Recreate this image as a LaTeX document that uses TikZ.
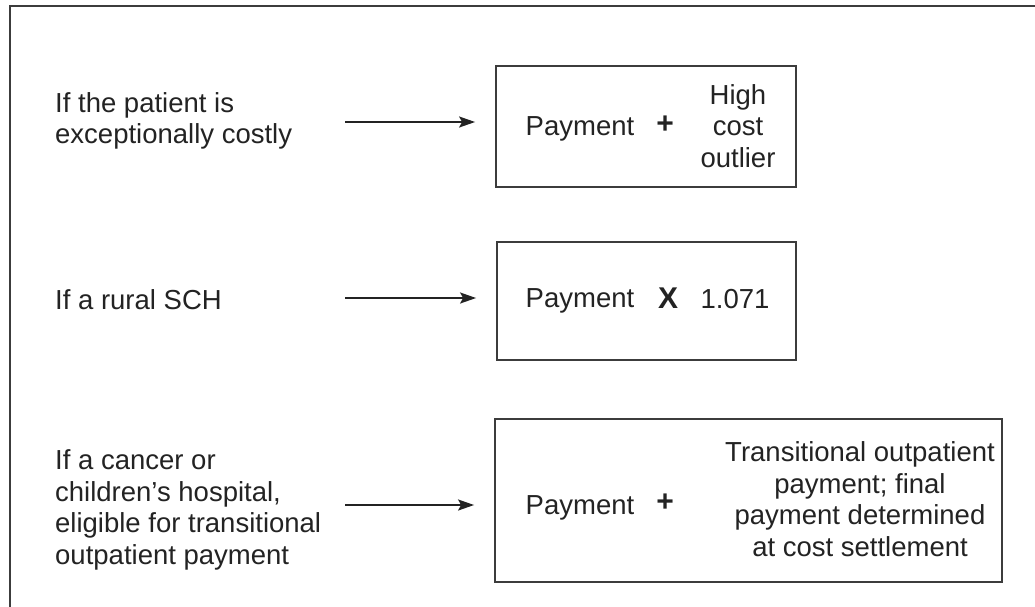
\documentclass[tikz,border=0pt]{standalone}
\usepackage{fontspec}
\setmainfont{Liberation Sans}
\usetikzlibrary{arrows.meta}
\definecolor{ink}{RGB}{35,35,35}
\definecolor{frame}{RGB}{60,60,60}
\tikzset{
  txt/.style={inner sep=0pt, text=ink, font=\fontsize{27.5}{31.5}\selectfont},
  cond/.style={txt, anchor=west, align=left},
  paybox/.style={draw=frame, line width=1.8pt, inner sep=0pt},
  op/.style={txt, font=\fontsize{30}{32}\selectfont\bfseries},
  arr/.style={draw=ink, line width=1.8pt, -{Stealth[length=16pt,width=11pt,inset=3pt]}, shorten >=20pt}
}
\begin{document}
\begin{tikzpicture}[x=1pt,y=-1pt]
\useasboundingbox (0,0) rectangle (1035,606);
\clip (0,0) rectangle (1035,606);
\fill[white] (0,0) rectangle (1035,606);
% outer frame, running past the right and bottom edges
\draw[frame, line width=2.2pt] (10,6) rectangle (1060,630);

% conditions
\node[cond] (c1) at (55,121) {If the patient is\\exceptionally costly};
\node[cond] (c2) at (55,300) {If a rural SCH};
\node[cond] (c3) at (55,510) {If a cancer or\\children’s hospital,\\eligible for transitional\\outpatient payment};

% result boxes
\node[paybox, minimum width=300pt, minimum height=121pt] (b1) at (646,126.5) {};
\node[paybox, minimum width=299pt, minimum height=118pt] (b2) at (646.5,301) {};
\node[paybox, minimum width=507pt, minimum height=163pt] (b3) at (748.5,500.5) {};

% box contents
\node[txt] (p1) at (580,129) {Payment};
\node[op] (o1) at (665,125) {+};
\node[txt, align=center] (h1) at (738,126) {High\\cost\\outlier};

\node[txt] (p2) at (580,301) {Payment};
\node[op] (o2) at (668,298) {X};
\node[txt] (h2) at (735,299) {1.071};

\node[txt] (p3) at (580,508) {Payment};
\node[op] (o3) at (665,503) {+};
\node[txt, align=center] (h3) at (860,499) {Transitional outpatient\\payment; final\\payment determined\\at cost settlement};

% arrows
\coordinate (a1) at (345,122);
\coordinate (a2) at (345,298);
\coordinate (a3) at (345,505);
\draw[arr] (a1) -- (a1 -| b1.west);
\draw[arr] (a2) -- (a2 -| b2.west);
\draw[arr] (a3) -- (a3 -| b3.west);
\end{tikzpicture}
\end{document}
